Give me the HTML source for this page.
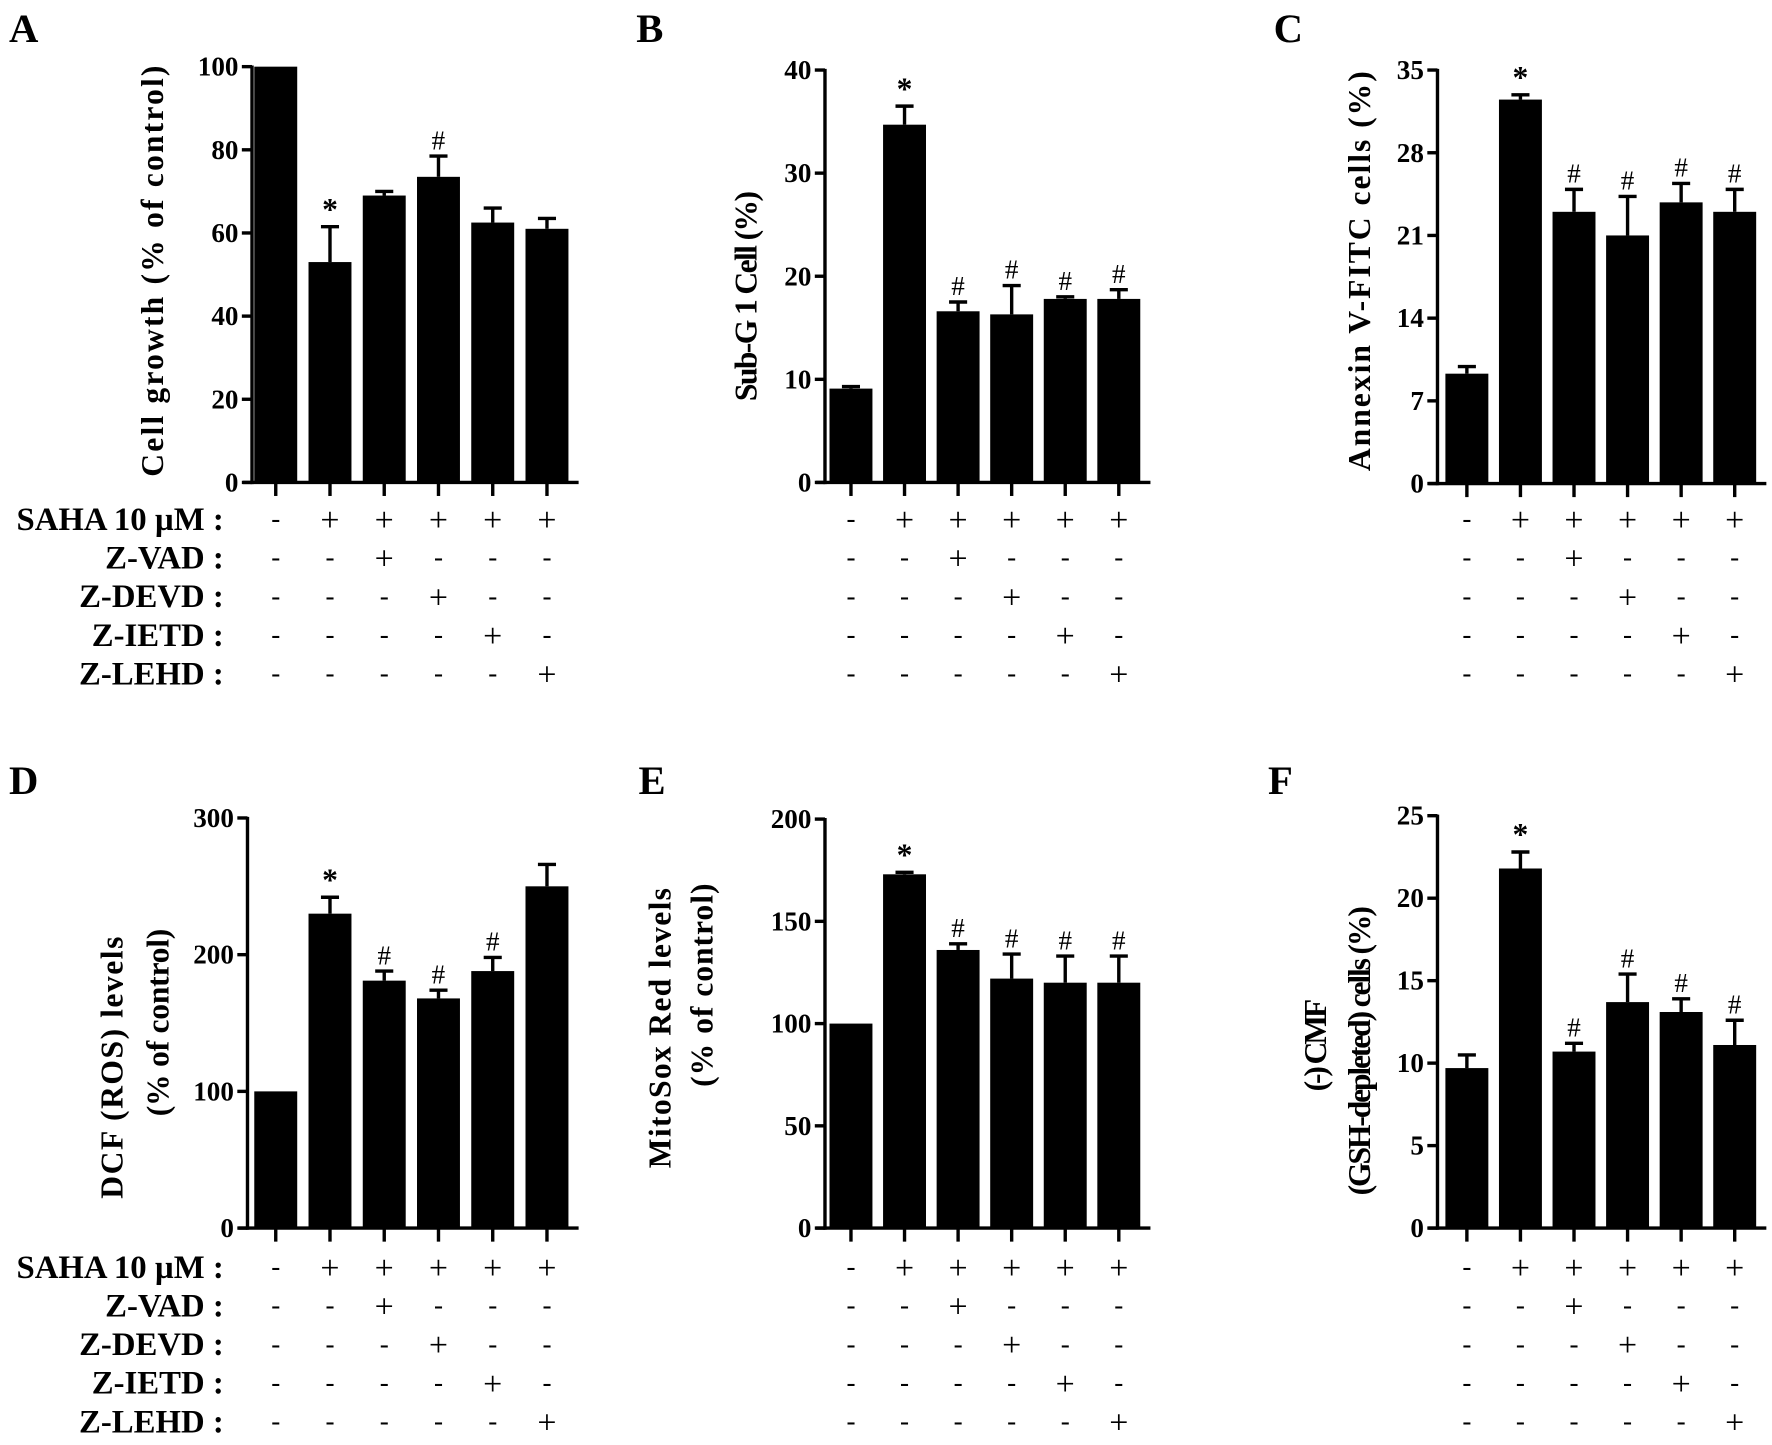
<!DOCTYPE html>
<html><head><meta charset="utf-8"><style>
html,body{margin:0;padding:0;background:#fff;}
svg{display:block;}
text{font-family:"Liberation Serif",serif;fill:#000;}
</style></head><body>
<svg id="fig" xmlns="http://www.w3.org/2000/svg" width="1772" height="1445" viewBox="0 0 1568 1279" preserveAspectRatio="none"></svg>
<script>
const NS="http://www.w3.org/2000/svg";
// ---- data ----
const valuesA=[100,53,69,73.5,62.5,61];
const errA=[100,61.5,70,78.5,66,63.5];
const valuesB=[9.1,34.7,16.6,16.3,17.8,17.8];
const errB=[9.3,36.5,17.5,19.1,18,18.7];
const valuesC=[9.3,32.5,23,21,23.8,23];
const errC=[9.9,32.9,24.9,24.3,25.4,24.9];
const valuesD=[100,230,181,168,188,250];
const errD=[100,242,188,174,198,266];
const valuesE=[100,173,136,122,120,120];
const errE=[100,174,139,134,133,133];
const valuesF=[9.7,21.8,10.7,13.7,13.1,11.1];
const errF=[10.5,22.8,11.2,15.4,13.9,12.6];
const ticksA=[0,20,40,60,80,100];
const ticksB=[0,10,20,30,40];
const ticksC=[0,7,14,21,28,35];
const ticksD=[0,100,200,300];
const ticksE=[0,50,100,150,200];
const ticksF=[0,5,10,15,20,25];
const marksA=["","*","","#","",""];
const marksB=["","*","#","#","#","#"];
const marksC=["","*","#","#","#","#"];
const marksD=["","*","#","#","#",""];
const marksE=["","*","#","#","#","#"];
const marksF=["","*","#","#","#","#"];
const rowNames=["SAHA 10 \u00b5M :","Z-VAD :","Z-DEVD :","Z-IETD :","Z-LEHD :"];
const rowSigns=[["-","+","+","+","+","+"],["-","-","+","-","-","-"],["-","-","-","+","-","-"],["-","-","-","-","+","-"],["-","-","-","-","-","+"]];

const svg=document.getElementById('fig');
function el(tag,attrs,parent){const e=document.createElementNS(NS,tag);for(const k in attrs)e.setAttribute(k,attrs[k]);(parent||svg).appendChild(e);return e;}

function panel(cfg){
  const g=el('g',{});
  
  
  const L=el('text',{x:cfg.lx,y:cfg.ly,'font-size':36,'font-weight':'bold'},g);L.textContent=cfg.letter;
  
  
  const max=cfg.ticks[cfg.ticks.length-1];
  const ys=v=>cfg.y0-(v/max)*(cfg.y0-cfg.yTop);
  const xs=i=>cfg.c0+i*cfg.step;
  cfg.values.forEach((v,i)=>{
    const r=el('rect',{x:xs(i)-19,y:ys(v),width:38,height:cfg.y0-ys(v),fill:'#000'},g);
    
    
    const e=cfg.err[i];
    if(e>v){
      const l=el('line',{x1:xs(i),x2:xs(i),y1:ys(v),y2:ys(e),stroke:'#000','stroke-width':3},g);
      
      
      el('line',{x1:xs(i)-8,x2:xs(i)+8,y1:ys(e),y2:ys(e),stroke:'#000','stroke-width':3},g);
    }
    if(cfg.marks[i]){
      const top=Math.min(ys(e),ys(v));
      const t=el('text',{x:xs(i),y:top-6,'font-size':cfg.marks[i]==='*'?28:24,'text-anchor':'middle','font-weight':cfg.marks[i]==='*'?'bold':'normal'},g);
      t.textContent=cfg.marks[i];
      
      
    }
    el('line',{x1:xs(i),x2:xs(i),y1:cfg.y0,y2:cfg.y0+12,stroke:'#000','stroke-width':3},g);
  });
  const ya=el('line',{x1:cfg.ax,x2:cfg.ax,y1:cfg.yTop-1,y2:cfg.y0+1.5,stroke:'#000','stroke-width':3},g);
  
  
  const xa=el('line',{x1:cfg.ax-8,x2:xs(5)+28,y1:cfg.y0,y2:cfg.y0,stroke:'#000','stroke-width':3},g);
  
  
  cfg.ticks.forEach(t=>{
    el('line',{x1:cfg.ax-9,x2:cfg.ax,y1:ys(t),y2:ys(t),stroke:'#000','stroke-width':3},g);
    const tl=el('text',{x:cfg.ax-12,y:ys(t)+8,'font-size':24,'font-weight':'bold','text-anchor':'end'},g);
    tl.textContent=t;
    
    
  });
  cfg.ylab.forEach((s,k)=>{
    const x=cfg.labX[k], y=cfg.labY[k];
    const t=el('text',{x:x,y:y,'font-size':28,'font-weight':'bold','text-anchor':'middle','dominant-baseline':'central',textLength:cfg.labLen[k],lengthAdjust:'spacing',transform:`rotate(-90 ${x} ${y})`},g);
    t.textContent=s;
    
    
  });
  rowSigns.forEach((row,r)=>{
    const y=cfg.rowY0+r*34.2;
    if(cfg.showNames){
      const n=el('text',{x:198,y:y+9,'font-size':29,'font-weight':'bold','text-anchor':'end'},g);
      n.textContent=rowNames[r];
      
      
    }
    row.forEach((s,i)=>{
      const t=el('text',{x:xs(i),y:y+(s==='+'?10:7),'font-size':s==='+'?30:24,'text-anchor':'middle'},g);
      t.textContent=s;
      
      
    });
  });
}
const stepL=48,stepM=47.4,stepR=47.4;
panel({letter:'A',lx:8,ly:37,values:valuesA,err:errA,ticks:ticksA,marks:marksA,y0:427,yTop:59,ax:223,c0:244,step:stepL,ylab:['Cell growth (% of control)'],labX:[135],labY:[240],labLen:[364],rowY0:460,showNames:true});
panel({letter:'B',lx:563,ly:37,values:valuesB,err:errB,ticks:ticksB,marks:marksB,y0:427,yTop:62,ax:730,c0:753,step:stepM,ylab:['Sub-G 1 Cell (%)'],labX:[660],labY:[262],labLen:[186],rowY0:460,showNames:false});
panel({letter:'C',lx:1127,ly:37,values:valuesC,err:errC,ticks:ticksC,marks:marksC,y0:428,yTop:62,ax:1272,c0:1298,step:stepR,ylab:['Annexin V-FITC cells (%)'],labX:[1203],labY:[240],labLen:[354],rowY0:460,showNames:false});
panel({letter:'D',lx:8,ly:703,values:valuesD,err:errD,ticks:ticksD,marks:marksD,y0:1087,yTop:724,ax:219,c0:244,step:stepL,ylab:['DCF (ROS) levels','(% of control)'],labX:[99,140],labY:[945,905],labLen:[232,166],rowY0:1122,showNames:true});
panel({letter:'E',lx:565,ly:703,values:valuesE,err:errE,ticks:ticksE,marks:marksE,y0:1087,yTop:725,ax:730,c0:753,step:stepM,ylab:['MitoSox Red levels','(% of control)'],labX:[584,621],labY:[910,872],labLen:[248,180],rowY0:1122,showNames:false});
panel({letter:'F',lx:1122,ly:703,values:valuesF,err:errF,ticks:ticksF,marks:marksF,y0:1087,yTop:722,ax:1272,c0:1298,step:stepR,ylab:['(-) CMF','(GSH-depleted) cells (%)'],labX:[1164,1203],labY:[925,930],labLen:[82,256],rowY0:1122,showNames:false});
</script>
</body></html>
